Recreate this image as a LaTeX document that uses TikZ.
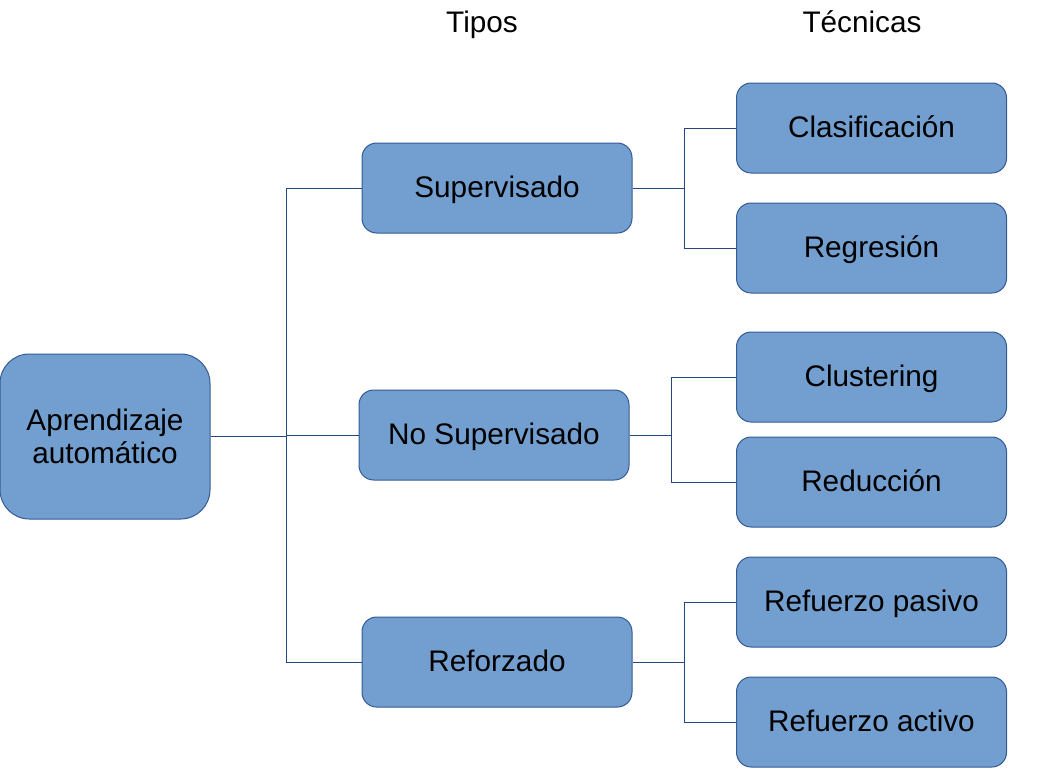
\documentclass[tikz,border=0pt]{standalone}
\usepackage{fontspec}
\setmainfont{Liberation Sans}
\usetikzlibrary{calc}

\definecolor{boxfill}{RGB}{114,159,207}
\definecolor{boxline}{RGB}{52,90,150}
\definecolor{linkline}{RGB}{40,72,125}

\begin{document}
\begin{tikzpicture} [
    x = 0.75pt, y = -0.75pt,
    basebox/.style = {draw = boxline, fill = boxfill, line width = 0.75pt,
        font = \fontsize{22.3}{24.75}\selectfont, align = center},
    box/.style = {basebox, rounded corners = 11pt, minimum width = 202.5pt,
        minimum height = 67.5pt, text height = 16pt, text depth = 1.8pt},
    rootbox/.style = {basebox, rounded corners = 22pt, minimum width = 157.5pt,
        minimum height = 123.75pt},
    title/.style = {font = \fontsize{22.3}{26}\selectfont, anchor = base},
    link/.style = {draw = linkline, line width = 0.75pt}
]
\useasboundingbox (0,0) rectangle (1048,768);

% titles
\node (tTipos) at (482, 32) [title] {Tipos};
\node (tTecnicas) at (862, 32) [title] {Técnicas};

% root and types
\node (root) at (105, 436.5) [rootbox] {Aprendizaje\\automático};
\node (sup) at (497, 188) [box] {Supervisado};
\node (nosup) at (494, 435) [box] {No Supervisado};
\node (ref) at (497, 662) [box] {Reforzado};

% techniques
\node (clas) at (871.5, 128) [box] {Clasificación};
\node (regr) at (871.5, 248) [box] {Regresión};
\node (clus) at (871.5, 377) [box] {Clustering};
\node (redu) at (871.5, 482) [box] {Reducción};
\node (rpas) at (871.5, 602) [box] {Refuerzo pasivo};
\node (ract) at (871.5, 722) [box] {Refuerzo activo};

% junctions
\coordinate (jroot) at (286, 436.5);
\coordinate (jsup) at (684, 188);
\coordinate (jnosup) at (671, 435);
\coordinate (jref) at (684, 662);

% links
\draw [link] (root.east) -- (jroot);
\draw [link] (jroot) |- (sup.west);
\draw [link] (jroot) |- (nosup.west);
\draw [link] (jroot) |- (ref.west);

\draw [link] (sup.east) -- (jsup);
\draw [link] (jsup) |- (clas.west);
\draw [link] (jsup) |- (regr.west);

\draw [link] (nosup.east) -- (jnosup);
\draw [link] (jnosup) |- (clus.west);
\draw [link] (jnosup) |- (redu.west);

\draw [link] (ref.east) -- (jref);
\draw [link] (jref) |- (rpas.west);
\draw [link] (jref) |- (ract.west);

\end{tikzpicture}
\end{document}
